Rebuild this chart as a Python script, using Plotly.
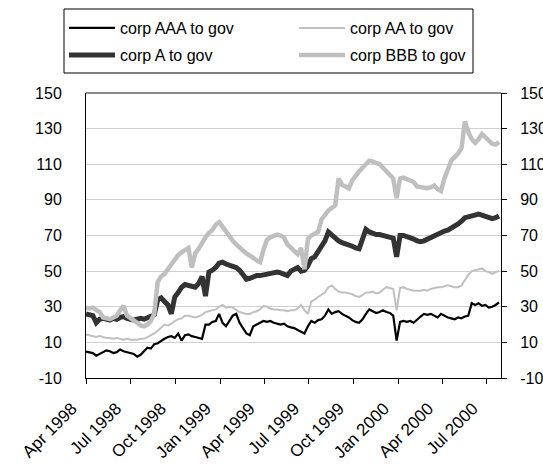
import pandas as pd
import plotly.graph_objects as go

# weekly observation dates
DATES = pd.date_range("1998-04-01", periods=122, freq="7D")

AAA = [4.8, 4.5, 4, 2.5, 3.5, 4.5, 5.5, 5, 4, 4.5,
       6, 5, 4.5, 4, 3.5, 2, 3, 5, 7, 6.5,
       9, 9.5, 11, 12, 13, 13.5, 12.5, 15, 11, 14,
       14.5, 13.5, 13, 12.5, 12, 20, 20, 21.5, 22, 26,
       21, 19, 22, 25, 26, 21, 18, 15, 14, 19,
       20, 21, 22, 21.5, 22, 21, 20.5, 20, 20.5, 19,
       18.4, 18, 17, 16, 15, 19, 22, 21, 22.5, 23,
       25, 28.5, 26, 27, 27.5, 26, 25, 24, 22.5, 21.5,
       21, 23, 26, 28.5, 27.5, 26.5, 27, 28, 27, 26.5,
       25, 11, 21.5, 22, 21.5, 22, 21, 23, 24.5, 26,
       25.5, 26, 25, 24, 26, 25, 24, 23.5, 23, 24,
       23.5, 24.5, 25, 32, 31, 32, 30.5, 31, 29.5, 30,
       31, 32.5]

AA = [14.5, 14, 13.5, 13, 13.5, 13, 12.5, 12.5, 12, 12.5,
      12, 11.5, 12, 11.5, 11.5, 11.5, 12, 12, 13, 14,
      15, 16.5, 18, 20, 19.5, 20.5, 22, 23, 23.5, 25,
      25, 24.5, 24, 24.5, 25.5, 27, 27.5, 28, 28.5, 30,
      31, 29.5, 30, 29.5, 28, 27, 26.5, 26, 26, 27,
      27.5, 28.5, 30.5, 30, 29, 28.5, 28.5, 28, 28, 27.5,
      28, 28, 29, 31, 28, 26, 33, 34, 35.5, 37,
      38, 41, 42, 40, 38.5, 38, 38, 37.5, 37, 36,
      35.5, 36.5, 38, 38, 38.5, 37.5, 38, 39.5, 41, 40.5,
      40, 28, 40.5, 41, 40, 39.5, 39, 39, 39, 39.5,
      39, 40, 40.5, 41, 41, 41.5, 42, 41.5, 41, 41,
      42, 45, 48, 50, 50.5, 51, 51.5, 50, 49.5, 48.5,
      49.5, 50]

A = [26, 25.5, 25, 21, 23, 23.5, 23, 22.5, 23.5, 23,
     24, 24.5, 23.5, 23, 22.5, 23, 23.5, 23, 24, 24.5,
     25.5, 34, 35, 33, 31, 26, 35.5, 38, 41, 42.5,
     42, 41.5, 41, 43, 47, 36, 49.5, 50.5, 52, 54.5,
     55, 54, 53.5, 53, 52, 50.5, 48, 45.5, 46, 47,
     47.5, 47.5, 48, 48.5, 48.5, 49, 49.5, 49, 48, 47.5,
     50, 51, 52, 50, 50.5, 53, 57, 58, 61, 63,
     67, 72, 70, 68.5, 67, 66, 65.5, 64.5, 64, 63,
     62.5, 68, 73.5, 72, 71, 70.5, 70.5, 70, 69.5, 69,
     68.5, 58, 70, 70, 69.5, 69, 68, 67, 66.5, 67,
     68, 69, 70, 70.5, 71.5, 72.5, 73, 74, 75, 76.5,
     78, 80, 80.5, 81, 82, 82, 81.5, 81, 80, 79.5,
     80, 81]

BBB = [29.5, 29, 29.5, 28.5, 27, 24, 23.5, 23, 24, 25,
       28, 30.5, 25, 23.5, 22.5, 20.5, 19.5, 19, 20, 22,
       26, 44, 47, 48.5, 51, 54, 57, 59, 60.5, 62,
       63, 52, 60, 62.5, 66, 69, 71.5, 73, 76, 77.5,
       75, 72, 69.5, 67, 65, 63, 61.5, 60, 59, 57.5,
       56, 55, 62, 67.5, 69, 70, 70.5, 70, 69, 65,
       63, 61, 59.5, 63, 51, 68, 70, 71, 72, 79,
       82, 84, 85.5, 87, 102, 98.5, 97.5, 96.5, 101, 104,
       106, 108, 110, 112, 111.5, 111, 110, 108, 106, 103.5,
       102, 91, 102, 102.5, 101.5, 101, 100, 97.5, 97, 96.5,
       96.5, 97, 98, 96, 95, 102, 108, 112, 114, 116,
       119, 134, 128, 124, 122, 124, 127, 125, 123, 121.5,
       121, 122.5]

SERIES_NAMES = ["corp AAA to gov", "corp AA to gov", "corp A to gov", "corp BBB to gov"]
SERIES_VALUES = [AAA, AA, A, BBB]
SERIES_COLORS = ["#000000", "#c0c0c0", "#333333", "#bfbfbf"]
SERIES_WIDTHS = [2.2, 2, 5, 4.5]
SERIES_LEGEND = ["legend", "legend2", "legend3", "legend4"]

TICK_DATES = ["1998-04-01", "1998-07-01", "1998-10-01", "1999-01-01", "1999-04-01",
              "1999-07-01", "1999-10-01", "2000-01-01", "2000-04-01", "2000-07-01"]
TICK_LABELS = ["Apr 1998", "Jul 1998", "Oct 1998", "Jan 1999", "Apr 1999",
               "Jul 1999", "Oct 1999", "Jan 2000", "Apr 2000", "Jul 2000"]
Y_TICKS = [-10, 10, 30, 50, 70, 90, 110, 130, 150]
Y_TICK_LABELS = ["-10", "10", "30", "50", "70", "90", "110", "130", "150"]

FONT = "Liberation Sans, Arial, sans-serif"
W, H = 543, 467

fig = go.Figure()
for name, vals, col, w, lg in zip(SERIES_NAMES, SERIES_VALUES, SERIES_COLORS, SERIES_WIDTHS, SERIES_LEGEND):
    fig.add_trace(go.Scatter(x=DATES, y=vals, mode="lines", name=name,
                             line=dict(color=col, width=w), legend=lg))
# invisible trace anchoring the right-hand axis
fig.add_trace(go.Scatter(x=[DATES[0]], y=[None], yaxis="y2", showlegend=False, hoverinfo="skip"))


def legend_box(px, py):
    return dict(orientation="h", x=px / W, y=1 - py / H, xref="container", yref="container",
                xanchor="left", yanchor="top", itemwidth=46,
                bgcolor="rgba(0,0,0,0)", borderwidth=0, font=dict(size=16))


fig.update_layout(
    width=W, height=H,
    margin=dict(l=86, r=42, t=93, b=89, autoexpand=False),
    paper_bgcolor="white", plot_bgcolor="white",
    font=dict(family=FONT, size=16, color="#000000"),
    xaxis=dict(type="date", range=["1998-04-01", "2000-07-30"],
               tickvals=TICK_DATES, ticktext=TICK_LABELS, tickangle=-45,
               showline=True, linecolor="#000000", linewidth=1,
               ticks="outside", ticklen=5, tickcolor="#000000",
               ticklabelshift=-14, ticklabelstandoff=8,
               showgrid=False, zeroline=False, tickfont=dict(size=17), automargin=False),
    yaxis=dict(range=[-10, 150], tickvals=Y_TICKS, ticktext=Y_TICK_LABELS,
               showline=True, linecolor="#000000",
               linewidth=1, gridcolor="#d0d0d0", gridwidth=1, zeroline=False,
               ticks="", ticklabelstandoff=20, automargin=False),
    yaxis2=dict(range=[-10, 150], tickvals=Y_TICKS, ticktext=Y_TICK_LABELS,
                overlaying="y", side="right",
                showline=True, linecolor="#000000", linewidth=1, showgrid=False,
                zeroline=False, ticks="outside", ticklen=5, tickcolor="#000000",
                ticklabelstandoff=10, automargin=False),
    legend=legend_box(64, 11),
    legend2=legend_box(294, 11),
    legend3=legend_box(64, 38),
    legend4=legend_box(294, 38),
    shapes=[
        dict(type="rect", xref="paper", yref="paper",
             x0=(64 - 86) / 415, x1=(473 - 86) / 415,
             y0=(378 - 73) / 285, y1=(378 - 9) / 285,
             line=dict(color="#000000", width=1)),
        dict(type="line", xref="paper", yref="paper", x0=0, x1=1, y0=1, y1=1,
             line=dict(color="#666666", width=1.5)),
    ],
)

fig.write_html("out.html", config={"displayModeBar": False},
               post_script="document.body.style.margin='0px';")
